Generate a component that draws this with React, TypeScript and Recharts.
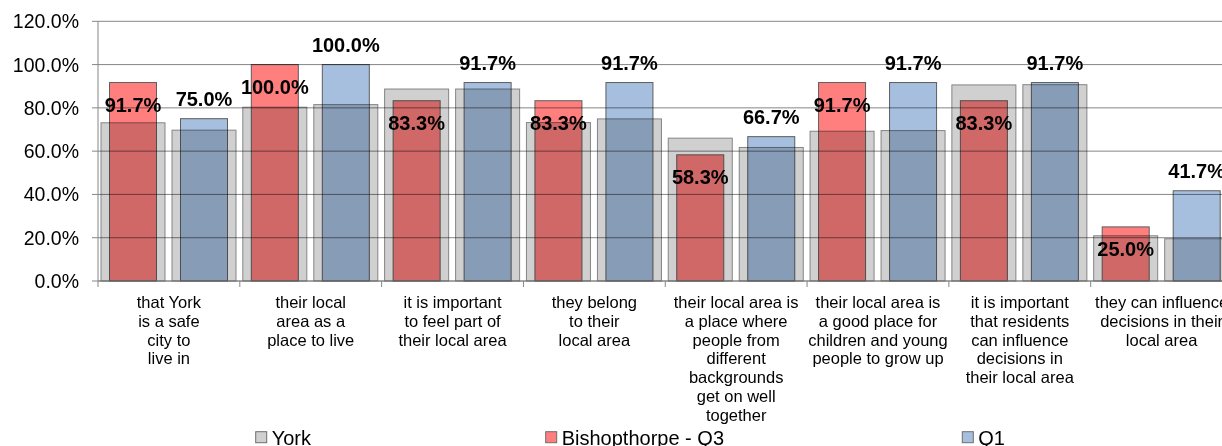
import { Bar, BarChart, CartesianGrid, LabelList, XAxis, YAxis } from "recharts";

const categories = [
  "that York\nis a safe\ncity to\nlive in",
  "their local\narea as a\nplace to live",
  "it is important\nto feel part of\ntheir local area",
  "they belong\nto their\nlocal area",
  "their local area is\na place where\npeople from\ndifferent\nbackgrounds\nget on well\ntogether",
  "their local area is\na good place for\nchildren and young\npeople to grow up",
  "it is important\nthat residents\ncan influence\ndecisions in\ntheir local area",
  "they can influence\ndecisions in their\nlocal area",
];
const yorkQ3 = [73.1, 80.3, 88.7, 73.2, 66.0, 69.2, 90.6, 20.9];
const yorkQ1 = [69.7, 81.5, 88.7, 74.9, 61.7, 69.5, 90.7, 19.5];
const bishopthorpeQ3 = [91.7, 100.0, 83.3, 83.3, 58.3, 91.7, 83.3, 25.0];
const q1 = [75.0, 100.0, 91.7, 91.7, 66.7, 91.7, 91.7, 41.7];
const yTicks = [0, 20, 40, 60, 80, 100, 120];

const data = categories.map((cat, i) => ({
  cat,
  yorkQ3: yorkQ3[i],
  yorkQ1: yorkQ1[i],
  bish: bishopthorpeQ3[i],
  q1: q1[i],
}));

const FONT = "'Liberation Sans', Arial, sans-serif";
const GRID = "#868686";
const GREY = "#d0d0d0";
const RED = "#ff7f7f";
const BLUE = "#a6bfdf";
const CHART_W = 1240;
const LEFT = 98;
const RIGHT = 7.5;
const BAND = (CHART_W - LEFT - RIGHT) / categories.length;
const INSET = 8.5;

const greyShape = (props: any) => (
  <rect
    x={props.x}
    y={props.y}
    width={props.width}
    height={props.height}
    fill={GREY}
    stroke="#858585"
    strokeWidth={1}
    style={{ mixBlendMode: "multiply" }}
  />
);

const slimShape = (fill: string) => (props: any) => (
  <rect
    x={props.x + INSET}
    y={props.y}
    width={props.width - 2 * INSET}
    height={props.height}
    fill={fill}
    stroke="#5e5e5e"
    strokeWidth={1}
    style={{ mixBlendMode: "multiply" }}
  />
);

const valueLabel = (dy: number) => (props: any) => (
  <text
    x={props.x + props.width / 2}
    y={props.y + dy}
    textAnchor="middle"
    dominantBaseline="central"
    fontSize={20}
    fontWeight="bold"
    fontFamily={FONT}
    fill="#000"
  >
    {Number(props.value).toFixed(1)}%
  </text>
);

const CategoryTick = (props: any) => {
  const { x, y, payload, index } = props;
  const lines = String(payload.value).split("\n");
  return (
    <g>
      <line x1={x - BAND / 2} x2={x - BAND / 2} y1={y} y2={y + 6} stroke={GRID} />
      {index === categories.length - 1 && (
        <line x1={x + BAND / 2} x2={x + BAND / 2} y1={y} y2={y + 6} stroke={GRID} />
      )}
      <text textAnchor="middle" fontSize={16.5} fontFamily={FONT} fill="#000">
        {lines.map((l, i) => (
          <tspan key={i} x={x} y={y + 26.7 + i * 18.9}>
            {l}
          </tspan>
        ))}
      </text>
    </g>
  );
};

const legendItems = [
  { name: "York", color: GREY, x: 255.7 },
  { name: "Bishopthorpe - Q3", color: RED, x: 545.7 },
  { name: "Q1", color: BLUE, x: 962.3 },
];

export default function App() {
  return (
    <div
      style={{
        position: "absolute",
        left: 0,
        top: 0,
        width: 1222,
        height: 446,
        overflow: "hidden",
        background: "#fff",
        fontFamily: FONT,
      }}
    >
      <BarChart
        width={CHART_W}
        height={446}
        data={data}
        margin={{ top: 21.3, right: RIGHT, left: 0, bottom: 0 }}
        barGap={7}
        barSize={64}
      >
        <CartesianGrid vertical={false} stroke={GRID} />
        <XAxis
          xAxisId="a"
          dataKey="cat"
          height={165}
          interval={0}
          tickLine={false}
          tickSize={0}
          tickMargin={0}
          axisLine={{ stroke: GRID }}
          tick={<CategoryTick />}
        />
        <XAxis xAxisId="b" dataKey="cat" hide />
        <YAxis
          width={LEFT}
          domain={[0, 120]}
          ticks={yTicks}
          interval={0}
          tickFormatter={(v: number) => `${v.toFixed(1)}%`}
          tick={{ fontSize: 19.5, fill: "#000", fontFamily: FONT }}
          tickSize={6}
          tickMargin={13}
          tickLine={{ stroke: GRID }}
          axisLine={{ stroke: GRID }}
        />
        <Bar xAxisId="a" dataKey="yorkQ3" barSize={64} shape={greyShape} isAnimationActive={false} />
        <Bar xAxisId="a" dataKey="yorkQ1" barSize={64} shape={greyShape} isAnimationActive={false} />
        <Bar xAxisId="b" dataKey="bish" barSize={64} shape={slimShape(RED)} isAnimationActive={false}>
          <LabelList dataKey="bish" content={valueLabel(22.5)} />
        </Bar>
        <Bar xAxisId="b" dataKey="q1" barSize={64} shape={slimShape(BLUE)} isAnimationActive={false}>
          <LabelList dataKey="q1" content={valueLabel(-20)} />
        </Bar>
      </BarChart>
      <svg
        width={1222}
        height={446}
        style={{ position: "absolute", left: 0, top: 0, pointerEvents: "none" }}
      >
        {legendItems.map((it) => (
          <g key={it.name}>
            <rect x={it.x} y={431.7} width={11} height={11} fill={it.color} stroke="#6e6e6e" />
            <text x={it.x + 16} y={444.5} fontSize={20} fontFamily={FONT} fill="#000">
              {it.name}
            </text>
          </g>
        ))}
      </svg>
    </div>
  );
}
